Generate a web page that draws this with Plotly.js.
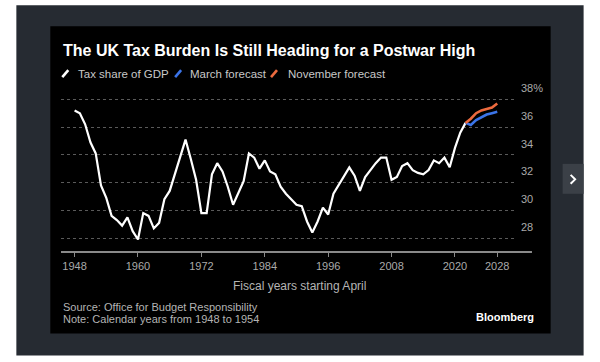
<!DOCTYPE html>
<html>
<head>
<meta charset="utf-8">
<script src="https://cdn.plot.ly/plotly-3.0.1.min.js"></script>
<style>
  html, body { margin: 0; padding: 0; background: #ffffff; }
  #chart { width: 600px; height: 362px; }
</style>
</head>
<body>
<div id="chart"></div>
<script>
// ---- Data ----
const histYears = [1948,1949,1950,1951,1952,1953,1954,1955,1956,1957,1958,1959,1960,1961,1962,1963,1964,1965,1966,1967,1968,1969,1970,1971,1972,1973,1974,1975,1976,1977,1978,1979,1980,1981,1982,1983,1984,1985,1986,1987,1988,1989,1990,1991,1992,1993,1994,1995,1996,1997,1998,1999,2000,2001,2002,2003,2004,2005,2006,2007,2008,2009,2010,2011,2012,2013,2014,2015,2016,2017,2018,2019,2020,2021,2022];
const taxShare = [37.2,37.0,36.2,34.9,34.1,31.8,30.9,29.6,29.3,28.9,29.5,28.5,27.9,29.8,29.6,28.7,29.1,30.8,31.4,32.6,33.8,35.1,33.7,32.2,29.8,29.8,32.6,33.4,32.8,31.7,30.4,31.2,32.1,34.1,33.8,33.0,33.6,32.8,32.6,31.7,31.2,30.8,30.4,30.3,29.2,28.4,29.2,30.2,29.7,31.2,31.8,32.4,33.1,32.5,31.4,32.4,32.9,33.4,33.8,33.8,32.2,32.4,33.2,33.4,32.9,32.7,32.6,32.9,33.6,33.4,33.8,33.1,34.5,35.6,36.3];
const forecastYears = [2022,2023,2024,2025,2026,2027,2028];
const marchForecast = [36.3,36.15,36.5,36.7,36.9,37.0,37.1];
const novemberForecast = [36.3,36.6,37.0,37.2,37.3,37.4,37.7];
const seriesNames = ["Tax share of GDP","March forecast","November forecast"];
const xTickVals = [1948,1960,1972,1984,1996,2008,2020,2028];
const yTickVals = [28,30,32,34,36,38];
const yTickText = ["28","30","32","34","36","38%"];

// ---- Layout geometry (pixels) ----
const L = 60.7, R = 517.3, T = 95, B = 252.3;
const W = R - L, H = B - T;
const fx = x => (x - L) / W;
const fy = y => (B - y) / H;

const WHITE = '#ffffff', BLUE = '#3b74e8', ORANGE = '#ec6a3e';
const FONT = 'Liberation Sans, Arial, sans-serif';

const traces = [
  {x: histYears, y: taxShare, name: seriesNames[0], type: 'scatter', mode: 'lines',
   line: {color: WHITE, width: 2.2}},
  {x: forecastYears, y: marchForecast, name: seriesNames[1], type: 'scatter', mode: 'lines',
   line: {color: BLUE, width: 2.6}},
  {x: forecastYears, y: novemberForecast, name: seriesNames[2], type: 'scatter', mode: 'lines',
   line: {color: ORANGE, width: 2.6}}
];

const legendItems = [
  {x: 62, color: WHITE, textX: 76, label: seriesNames[0]},
  {x: 175, color: BLUE, textX: 187.5, label: seriesNames[1]},
  {x: 271, color: ORANGE, textX: 286, label: seriesNames[2]}
];

const shapes = [
  // page frame
  {type: 'rect', xref: 'paper', yref: 'paper', x0: fx(16), x1: fx(584), y0: fy(356), y1: fy(5),
   fillcolor: '#262b32', line: {width: 0}, layer: 'below'},
  {type: 'rect', xref: 'paper', yref: 'paper', x0: fx(50), x1: fx(551), y0: fy(334), y1: fy(26),
   fillcolor: '#000000', line: {width: 0}, layer: 'below'},
  // side button
  {type: 'rect', xref: 'paper', yref: 'paper', x0: fx(563), x1: fx(584), y0: fy(194), y1: fy(164),
   fillcolor: '#3b4047', line: {width: 0}, layer: 'below'},
  {type: 'path', xref: 'paper', yref: 'paper',
   path: `M ${fx(571)},${fy(175)} L ${fx(575.5)},${fy(179.5)} L ${fx(571)},${fy(184)}`,
   line: {color: '#ffffff', width: 2}},
  // x axis line
  {type: 'line', xref: 'paper', yref: 'paper', x0: 0, x1: fx(532.3), y0: 0, y1: 0,
   line: {color: '#8a8a8a', width: 2}}
];
legendItems.forEach(it => {
  shapes.push({type: 'line', xref: 'paper', yref: 'paper',
    x0: fx(it.x), y0: fy(77), x1: fx(it.x + 6), y1: fy(70),
    line: {color: it.color, width: 2.6}});
});

const annotations = [
  {text: '<b>The UK Tax Burden Is Still Heading for a Postwar High</b>', xref: 'paper', yref: 'paper',
   x: fx(61), y: fy(50), xanchor: 'left', yanchor: 'middle', showarrow: false,
   font: {family: FONT, size: 16, color: '#ffffff'}},
  {text: 'Fiscal years starting April', xref: 'paper', yref: 'paper',
   x: fx(300), y: fy(286), xanchor: 'center', yanchor: 'middle', showarrow: false,
   font: {family: FONT, size: 12, color: '#b4b4b4'}},
  {text: 'Source: Office for Budget Responsibility', xref: 'paper', yref: 'paper',
   x: fx(61), y: fy(307.5), xanchor: 'left', yanchor: 'middle', showarrow: false,
   font: {family: FONT, size: 11, color: '#b4b4b4'}},
  {text: 'Note: Calendar years from 1948 to 1954', xref: 'paper', yref: 'paper',
   x: fx(61), y: fy(319.5), xanchor: 'left', yanchor: 'middle', showarrow: false,
   font: {family: FONT, size: 11, color: '#b4b4b4'}},
  {text: '<b>Bloomberg</b>', xref: 'paper', yref: 'paper',
   x: fx(536), y: fy(317), xanchor: 'right', yanchor: 'middle', showarrow: false,
   font: {family: FONT, size: 11, color: '#ffffff'}}
];
legendItems.forEach(it => {
  annotations.push({text: it.label, xref: 'paper', yref: 'paper',
    x: fx(it.textX), y: fy(73.5), xanchor: 'left', yanchor: 'middle', showarrow: false,
    font: {family: FONT, size: 11.5, color: '#c8c8c8'}});
});

const layout = {
  width: 600, height: 362,
  margin: {l: L, r: 600 - R, t: T, b: 362 - B, pad: 0},
  paper_bgcolor: '#ffffff',
  plot_bgcolor: 'rgba(0,0,0,0)',
  showlegend: false,
  font: {family: FONT, color: '#aaaaaa'},
  xaxis: {
    range: [1945.43, 2031.74], tickvals: xTickVals, ticks: 'outside', ticklen: 4,
    tickcolor: '#8a8a8a', tickwidth: 1, showgrid: false, zeroline: false, showline: false,
    tickfont: {family: FONT, size: 11, color: '#aaaaaa'}, ticklabelstandoff: 0
  },
  yaxis: {
    range: [27, 38.31], side: 'right', tickvals: yTickVals, ticktext: yTickText,
    showgrid: true, gridcolor: '#5a5a5a', griddash: 'dot', gridwidth: 1,
    zeroline: false, showline: false, ticks: '',
    tickfont: {family: FONT, size: 11, color: '#aaaaaa'},
    ticklabelshift: -11, ticklabelstandoff: 3
  },
  shapes: shapes,
  annotations: annotations
};

Plotly.newPlot('chart', traces, layout, {displayModeBar: false, staticPlot: true});
</script>
</body>
</html>
